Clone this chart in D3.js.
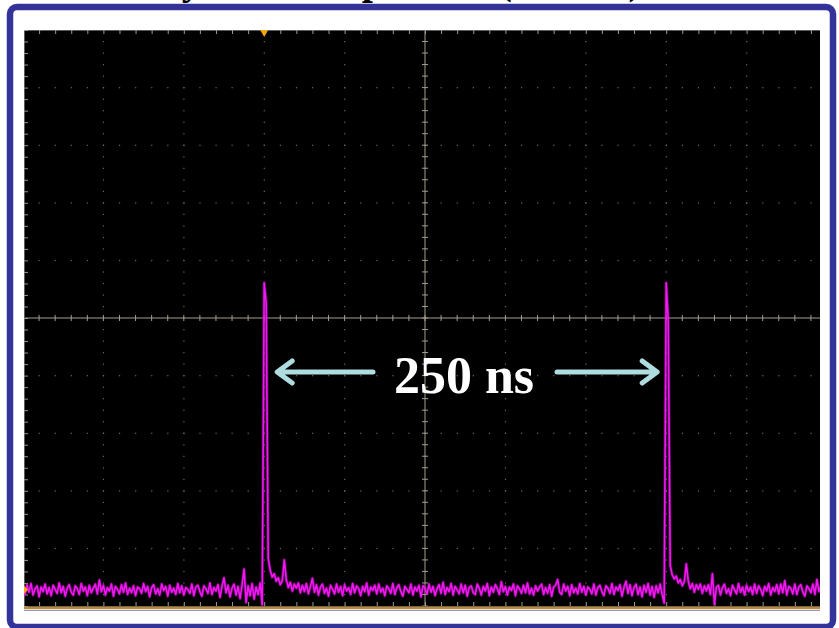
<!DOCTYPE html>
<html>
<head>
<meta charset="utf-8">
<script src="https://cdn.jsdelivr.net/npm/d3@7"></script>
<style>
  html, body { margin: 0; padding: 0; background: #ffffff; }
  svg { display: block; }
</style>
</head>
<body>
<svg id="scope" width="839" height="628"></svg>
<script>
// Oscilloscope capture: photodiode trace, 50 ns/div, 10 mV/div
const titleText = "Ideally uniform periods (4 MHz)";
const sampleIntervalNs = 1.25;          // one sample every 1.25 ns
const nsPerDiv = 50;
const mVPerDiv = 10;
const groundDiv = 0.28;                  // ground marker height above screen bottom (div)

// Trace samples in mV, 400 points
const traceMv = [
  0.3,-0.8,0.9,-0.4,1.1,-0.9,0.2,0.7,-1.2,0.5,-0.3,1.0,-0.7,0.4,-1.0,0.8,0.1,-0.6,1.2,-0.5,
  0.6,-1.1,0.3,0.9,-0.4,-0.9,0.7,0.2,-0.8,1.1,-0.2,0.5,-1.0,0.8,-0.5,0.3,1.0,-0.7,1.7,-0.3,
  0.8,-0.9,0.4,-0.2,1.0,-1.1,0.6,0.1,-0.7,0.9,-0.4,1.2,-0.8,0.3,-0.5,0.7,-1.0,0.5,0.2,-0.6,
  1.1,-0.3,0.6,-1.2,0.4,0.9,-0.7,0.2,-0.9,1.0,-0.1,0.6,-1.1,0.8,-0.4,0.3,-0.8,1.1,-0.5,0.7,
  -0.9,0.4,0.1,-0.6,1.0,-1.0,0.5,0.8,-0.3,-1.1,0.7,0.2,-0.6,1.2,-0.8,0.4,-0.2,0.9,-1.3,0.6,
  2.1,-0.5,0.8,-1.2,0.3,1.0,-0.9,0.6,-1.5,0.9,3.6,-2.2,0.7,-1.0,1.1,-1.6,0.5,-0.8,1.2,-2.6,
  53.3,49.8,5.5,3.4,2.2,2.8,1.5,2.1,0.9,1.6,5.2,1.8,0.4,1.3,-0.2,1.0,0.3,1.2,-0.5,0.8,
  -0.3,1.1,-0.7,0.6,2.0,-0.4,0.9,-0.9,0.5,1.0,-0.6,0.3,-1.1,0.8,0.1,-0.7,1.0,-0.4,0.6,-1.0,
  0.9,-0.2,0.4,-0.8,1.1,-0.5,0.7,0.2,-1.0,0.6,-0.3,1.2,-0.9,0.5,-0.1,0.8,-0.7,1.0,-0.4,0.3,
  -1.0,0.7,0.2,-0.6,1.1,-0.8,0.4,0.9,-0.3,-1.1,0.6,0.1,-0.5,1.0,-0.9,0.5,-0.2,0.8,-1.2,0.7,
  0.3,-0.7,1.0,-0.4,0.6,-1.0,0.2,0.9,-0.6,1.3,-0.8,0.4,-0.3,1.1,-0.9,0.6,0.0,-0.7,1.0,-0.5,
  0.8,-1.1,0.4,0.7,-0.5,-0.8,1.0,0.3,-0.9,0.6,-0.2,1.1,-1.0,0.5,-0.4,0.9,0.2,-0.8,1.4,-0.3,
  0.6,-0.9,0.5,-0.1,1.0,-1.0,0.7,0.2,-0.6,0.8,-0.5,1.2,-0.7,0.3,-0.9,0.7,-0.2,0.5,1.0,-0.8,
  0.4,-0.6,0.9,-1.1,0.5,0.8,1.8,-0.4,-0.8,1.0,-0.2,0.6,-1.0,0.9,-0.5,0.3,-0.7,1.1,-0.4,0.6,
  -0.9,0.5,0.1,-0.7,1.0,-0.9,0.4,0.8,-0.3,-1.0,0.7,0.3,-0.6,1.1,-0.8,0.5,-0.1,0.9,-1.1,0.4,
  1.5,-0.6,0.9,-1.0,0.4,1.0,-0.8,0.5,-1.2,0.8,-0.4,1.1,-0.9,0.6,-1.3,0.7,-0.5,1.0,-0.8,-2.3,
  53.3,47.0,4.2,2.6,1.9,2.4,1.2,1.8,0.7,1.4,4.5,1.5,0.2,1.1,-0.4,0.9,0.1,1.0,-0.6,0.7,
  -0.2,0.9,-0.8,2.8,-2.5,0.5,0.8,-0.9,0.4,1.0,-0.6,0.2,-1.0,0.8,0.0,-0.7,1.1,-0.4,0.5,-0.9,
  0.8,-0.3,0.5,-0.8,1.0,-0.6,0.7,0.1,-1.0,0.6,-0.2,1.1,-0.9,0.4,-0.3,0.9,-0.7,1.0,-0.5,1.6,
  -0.9,0.6,0.3,-0.7,1.0,-0.8,0.5,0.9,-0.4,-1.1,0.7,0.2,-0.5,1.0,-0.8,1.8,-0.3,0.8,-1.0,0.6
];

// Pulse-to-pulse annotation
const pulseTimesNs = [150, 400];
const spanLabel = "250 ns";
const triggerNs = 150;

const svg = d3.select("#scope");

// Screen geometry
const screen = { left: 24, top: 30, right: 820, bottom: 607 };
const gridX0 = 23, gridX1 = 827, gridY0 = 606, gridY1 = 30;

const x = d3.scaleLinear().domain([0, 10 * nsPerDiv]).range([gridX0, gridX1]);
const y = d3.scaleLinear()
  .domain([-groundDiv * mVPerDiv, (10 - groundDiv) * mVPerDiv])
  .range([gridY0, gridY1]);
const gx = d3.scaleLinear().domain([0, 10]).range([gridX0, gridX1]);
const gy = d3.scaleLinear().domain([0, 10]).range([gridY0, gridY1]);

// Heading (sits above the frame, mostly outside the page)
svg.append("text")
  .attr("x", 84).attr("y", -6.5)
  .attr("text-anchor", "start")
  .attr("font-family", "'Liberation Serif', 'Times New Roman', serif")
  .attr("font-weight", "bold")
  .attr("font-size", 40)
  .attr("fill", "#000")
  .text(titleText);

// Blue slide frame
svg.append("rect")
  .attr("x", 10).attr("y", 7).attr("width", 823).attr("height", 620)
  .attr("rx", 7).attr("ry", 7)
  .attr("fill", "#ffffff")
  .attr("stroke", "#333399").attr("stroke-width", 6.5);

// Black scope screen
svg.append("defs").append("clipPath").attr("id", "screenClip")
  .append("rect")
  .attr("x", screen.left).attr("y", screen.top)
  .attr("width", screen.right - screen.left).attr("height", screen.bottom - screen.top);

svg.append("rect")
  .attr("x", screen.left).attr("y", screen.top)
  .attr("width", screen.right - screen.left).attr("height", screen.bottom - screen.top)
  .attr("fill", "#000");

const g = svg.append("g").attr("clip-path", "url(#screenClip)");

// Dotted graticule
const majorDivs = d3.range(1, 10).filter(d => d !== 5);
const minorSteps = d3.range(0, 10.001, 0.2);
const dots = g.append("g").attr("fill", "#6a6a6a");
majorDivs.forEach(d => {
  dots.selectAll(null).data(minorSteps).join("rect")
    .attr("x", gx(d) - 0.5).attr("y", s => gy(s) - 0.5)
    .attr("width", 1.2).attr("height", 1.2);
  dots.selectAll(null).data(minorSteps).join("rect")
    .attr("x", s => gx(s) - 0.5).attr("y", gy(d) - 0.5)
    .attr("width", 1.2).attr("height", 1.2);
});

// Centre cross-hair with minor ticks
const axisColor = "#a39e8c";
const cross = g.append("g").attr("stroke", axisColor).attr("stroke-width", 1);
cross.append("line")
  .attr("x1", gx(5)).attr("x2", gx(5)).attr("y1", gy(10)).attr("y2", gy(0));
cross.append("line")
  .attr("x1", gx(0)).attr("x2", gx(10)).attr("y1", gy(5)).attr("y2", gy(5));
cross.selectAll(null).data(minorSteps).join("line")
  .attr("x1", gx(5) - 3).attr("x2", gx(5) + 3)
  .attr("y1", s => gy(s)).attr("y2", s => gy(s));
cross.selectAll(null).data(minorSteps).join("line")
  .attr("x1", s => gx(s)).attr("x2", s => gx(s))
  .attr("y1", gy(5) - 3).attr("y2", gy(5) + 3);

// Edge ticks via d3 axes
const edgeColor = "#9a9a9a";
function styleAxis(sel) {
  sel.select(".domain").attr("stroke", "#5a5a5a").attr("stroke-width", 1);
  sel.selectAll(".tick line").attr("stroke", edgeColor);
  sel.selectAll(".tick text").remove();
}
g.append("g").attr("transform", `translate(0,${screen.top})`)
  .call(d3.axisBottom(gx).tickValues(minorSteps).tickSize(4).tickSizeOuter(0).tickFormat(""))
  .call(styleAxis);
g.append("g").attr("transform", `translate(0,${gridY0})`)
  .call(d3.axisTop(gx).tickValues(minorSteps).tickSize(4).tickSizeOuter(0).tickFormat(""))
  .call(styleAxis);
g.append("g").attr("transform", `translate(${screen.left},0)`)
  .call(d3.axisRight(gy).tickValues(minorSteps).tickSize(4).tickSizeOuter(0).tickFormat(""))
  .call(styleAxis);

// Trace with a faint persistence halo
const samples = traceMv.map((v, i) => ({ t: i * sampleIntervalNs, v }));
const line = d3.line().x(d => x(d.t)).y(d => y(d.v));
g.append("path")
  .datum(samples)
  .attr("d", line)
  .attr("fill", "none")
  .attr("stroke", "#d000d0")
  .attr("stroke-opacity", 0.45)
  .attr("stroke-width", 3.2)
  .attr("stroke-linejoin", "round");
g.append("path")
  .datum(samples)
  .attr("d", line)
  .attr("fill", "none")
  .attr("stroke", "#f018f0")
  .attr("stroke-width", 1.6)
  .attr("stroke-linejoin", "round");

// Bottom status strip
svg.append("line")
  .attr("x1", screen.left).attr("x2", screen.right)
  .attr("y1", 608).attr("y2", 608)
  .attr("stroke", "#b98a3a").attr("stroke-width", 2.5);
svg.append("line")
  .attr("x1", screen.left).attr("x2", screen.right)
  .attr("y1", 610.5).attr("y2", 610.5)
  .attr("stroke", "#9a96c8").attr("stroke-width", 1.2);

// Trigger position marker
const tx = x(triggerNs);
svg.append("path")
  .attr("d", `M${tx - 4},${screen.top} L${tx + 4},${screen.top} L${tx},${screen.top + 7} Z`)
  .attr("fill", "#f5a510");

// Channel ground marker
const gyPos = y(0);
svg.append("path")
  .attr("d", `M${screen.left},${gyPos - 4} L${screen.left + 4},${gyPos} L${screen.left},${gyPos + 4} Z`)
  .attr("fill", "#f5a510");

// Period annotation
const arrowColor = "#aedcdf";
const arrowY = 372;
const labelX = 464, labelBaseline = 393;
const leftTip = x(pulseTimesNs[0]) + 13;
const rightTip = x(pulseTimesNs[1]) - 9;
const ann = svg.append("g")
  .attr("stroke", arrowColor).attr("stroke-width", 5)
  .attr("fill", "none").attr("stroke-linecap", "round").attr("stroke-linejoin", "round");
ann.append("path")
  .attr("d", `M${labelX - 91},${arrowY} L${leftTip + 2},${arrowY}
              M${leftTip + 15},${arrowY - 11} L${leftTip},${arrowY} L${leftTip + 15},${arrowY + 11}`);
ann.append("path")
  .attr("d", `M${labelX + 93},${arrowY} L${rightTip - 2},${arrowY}
              M${rightTip - 15},${arrowY - 11} L${rightTip},${arrowY} L${rightTip - 15},${arrowY + 11}`);

svg.append("text")
  .attr("x", labelX).attr("y", labelBaseline)
  .attr("text-anchor", "middle")
  .attr("font-family", "'Liberation Serif', 'Times New Roman', serif")
  .attr("font-weight", "bold")
  .attr("font-size", 52)
  .attr("fill", "#ffffff")
  .text(spanLabel);
</script>
</body>
</html>
